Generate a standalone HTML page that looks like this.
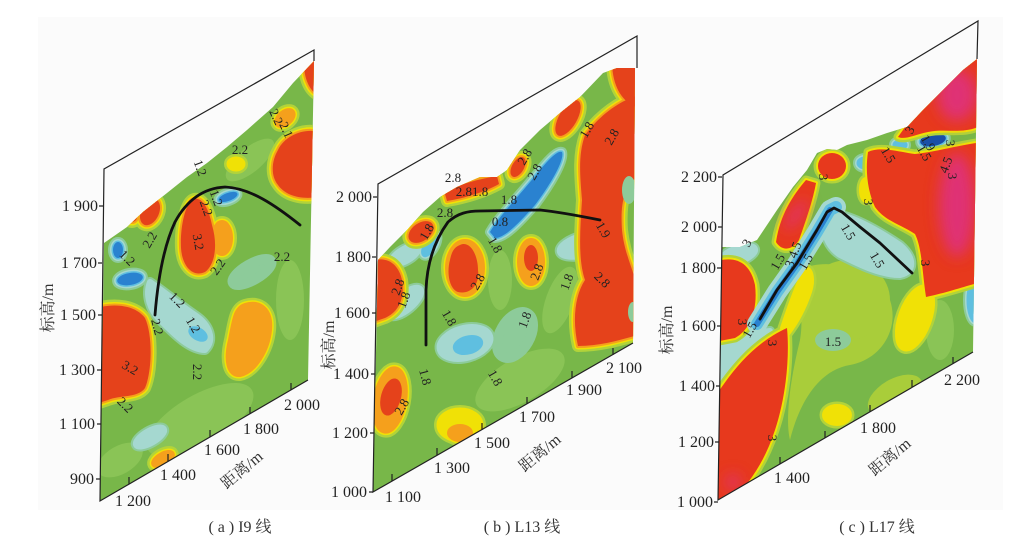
<!DOCTYPE html>
<html><head><meta charset="utf-8">
<style>
html,body{margin:0;padding:0;background:#fff;}
svg{display:block;}
svg text{font-family:"Liberation Serif","Noto Serif CJK SC",serif;}
.tk{font-size:16px;fill:#222;}
.cl{font-size:13px;fill:#222;}
.ti{font-size:16px;fill:#333;}
.L{fill:#b2d33a;stroke:#b2d33a;stroke-width:12px;stroke-linejoin:round;}
.Y{fill:#f0e106;stroke:#f0e106;stroke-width:7px;stroke-linejoin:round;}
.O{fill:#f5a01c;stroke:#f5a01c;stroke-width:4px;stroke-linejoin:round;}
.R{fill:#e5421b;stroke:none;}
.Lc{fill:#b2d33a;stroke:#b2d33a;stroke-width:9px;stroke-linejoin:round;}
.Yc{fill:#f0e106;stroke:#f0e106;stroke-width:4px;stroke-linejoin:round;}
.C4{fill:#8dcb9a;stroke:#8dcb9a;stroke-width:10px;stroke-linejoin:round;}
.C3{fill:#a5d8d0;stroke:#a5d8d0;stroke-width:6px;stroke-linejoin:round;}
.C2{fill:#5fbfe0;stroke:#5fbfe0;stroke-width:3px;stroke-linejoin:round;}
.C1{fill:#2a82d0;stroke:none;}
.ax{stroke:#222;stroke-width:1.2;fill:none;}
.bk{stroke:#111;stroke-width:2.8;fill:none;stroke-linecap:round;stroke-linejoin:round;}
.lg{fill:#8ac456;}
</style></head>
<body>
<svg width="1020" height="545" viewBox="0 0 1020 545" xmlns="http://www.w3.org/2000/svg">
<defs>
<clipPath id="pa"><path d="M104,243 L127,227 L143,212 L167,193 L187,177 L207,163 L227,147 L247,130 L273,107 L293,83 L314,61 L308,380 L100,501 Z"/></clipPath>
<clipPath id="pb"><path d="M378,260 L390,247 L407,230 L423,212 L440,197 L457,187 L480,177 L497,177 L507,170 L520,150 L540,130 L560,113 L580,97 L603,73 L617,68 L635,68 L633,343 L373,492 Z"/></clipPath>
<clipPath id="pc"><path d="M722,247 L740,247 L757,240 L777,210 L793,187 L807,170 L817,153 L827,149 L837,150 L847,145 L867,140 L887,133 L907,127 L923,110 L943,90 L963,70 L977,59 L973,352 L718,500 Z"/></clipPath>
<filter id="bl" x="-50%" y="-50%" width="200%" height="200%"><feGaussianBlur stdDeviation="7"/></filter>

<path id="ar1" d="M96,308 C115,303 135,305 145,318 C153,335 152,372 145,388 C138,398 120,395 108,400 L96,404 Z"/>
<path id="ar2" d="M192,200 C200,195 208,205 212,225 C218,245 215,265 205,272 C192,278 182,265 181,248 C180,228 185,205 192,200 Z"/>
<path id="ar3" d="M278,150 C285,135 305,128 318,132 L318,197 C300,200 285,195 278,185 C270,175 272,160 278,150 Z"/>
<path id="ar4" d="M304,58 L318,58 L318,95 C308,90 303,75 304,58 Z"/>
<ellipse id="ar5" cx="150" cy="212" rx="9" ry="14" transform="rotate(25 150 212)"/>
<ellipse id="ar6" cx="132" cy="217" rx="5" ry="5"/>
<path id="ao1" d="M245,305 C260,300 272,310 270,330 C268,350 255,372 240,375 C228,376 225,360 230,340 C234,320 235,308 245,305 Z"/>
<ellipse id="ao2" cx="163" cy="459" rx="11" ry="5" transform="rotate(-30 163 459)"/>
<ellipse id="ao3" cx="222" cy="238" rx="9" ry="16"/>
<ellipse id="ao4" cx="285" cy="118" rx="10" ry="6" transform="rotate(-40 285 118)"/>
<ellipse id="ay1" cx="236" cy="164" rx="6" ry="4"/>
<ellipse id="ac1" cx="118" cy="250" rx="5" ry="8"/>
<ellipse id="ac2" cx="130" cy="279" rx="13" ry="6" transform="rotate(-10 130 279)"/>
<path id="ac3" d="M150,282 C165,292 180,305 195,315 C210,325 215,340 205,350 C190,350 175,335 160,320 C150,310 145,295 150,282 Z"/>
<ellipse id="ac4" cx="198" cy="334" rx="9" ry="5" transform="rotate(30 198 334)"/>
<ellipse id="ac5" cx="228" cy="197" rx="10" ry="4" transform="rotate(-20 228 197)"/>
<ellipse id="ac6" cx="150" cy="437" rx="16" ry="6" transform="rotate(-30 150 437)"/>
<ellipse id="ac7" cx="252" cy="272" rx="22" ry="8" transform="rotate(-30 252 272)"/>

<path id="br1" d="M368,262 C385,255 398,262 402,280 C405,300 398,312 385,318 L368,324 Z"/>
<ellipse id="br2" cx="421" cy="232" rx="14" ry="9" transform="rotate(-35 421 232)"/>
<path id="br3" d="M445,194 C455,185 475,180 497,176 L499,184 C485,192 465,198 447,201 Z"/>
<ellipse id="br4" cx="518" cy="167" rx="6" ry="11" transform="rotate(30 518 167)"/>
<ellipse id="br5" cx="568" cy="118" rx="9" ry="20" transform="rotate(30 568 118)"/>
<path id="br6" d="M585,135 C600,115 620,100 640,95 L640,175 C625,185 620,200 622,230 C625,260 638,275 638,300 L638,335 C620,340 600,346 578,346 C572,320 575,295 585,280 C578,260 580,230 582,200 C580,175 578,155 585,135 Z"/>
<path id="br7" d="M612,64 L640,64 L640,108 C625,105 613,90 612,64 Z"/>
<path id="br8" d="M460,245 C470,240 478,255 478,270 C480,285 470,295 458,292 C448,288 447,270 450,260 C452,250 455,247 460,245 Z"/>
<ellipse id="br9" cx="531" cy="258" rx="7" ry="13"/>
<ellipse id="br10" cx="391" cy="397" rx="10" ry="19" transform="rotate(15 391 397)"/>
<ellipse id="bo1" cx="390" cy="400" rx="15" ry="32" transform="rotate(10 390 400)"/>
<ellipse id="bo2" cx="460" cy="433" rx="11" ry="7"/>
<ellipse id="bo3" cx="531" cy="262" rx="12" ry="22"/>
<ellipse id="bo4" cx="465" cy="268" rx="18" ry="27"/>
<ellipse id="by1" cx="460" cy="425" rx="20" ry="14"/>
<ellipse id="bc1" cx="465" cy="343" rx="26" ry="15" transform="rotate(-15 465 343)"/>
<ellipse id="bc1b" cx="468" cy="345" rx="14" ry="8" transform="rotate(-15 468 345)"/>
<path id="bc2" d="M490,232 C500,215 520,195 540,170 C550,158 558,150 562,152 C565,160 550,185 535,205 C520,222 505,238 495,238 Z"/>
<ellipse id="bc3" cx="430" cy="245" rx="5" ry="12" transform="rotate(30 430 245)"/>
<ellipse id="bc4" cx="585" cy="245" rx="26" ry="10" transform="rotate(-15 585 245)"/>
<ellipse id="bc5" cx="405" cy="255" rx="15" ry="6" transform="rotate(-30 405 255)"/>
<ellipse id="bc6" cx="405" cy="302" rx="20" ry="8" transform="rotate(-40 405 302)"/>
<ellipse id="bc7" cx="515" cy="335" rx="15" ry="25" transform="rotate(30 515 335)"/>

<path id="cr1" d="M898,137 L920,106 L982,50 L982,125 C965,135 945,128 928,132 C914,135 905,140 898,137 Z"/>
<path id="cr2" d="M868,152 C880,146 900,152 915,154 C935,152 950,147 982,142 L982,282 C965,286 950,292 926,297 C922,270 922,248 915,234 C900,224 885,221 875,207 C868,192 865,172 868,152 Z"/>
<ellipse id="cr3" cx="832" cy="166" rx="14" ry="13"/>
<path id="cr4" d="M776,242 C780,215 793,195 806,180 L816,183 C813,200 806,220 799,240 C793,250 782,252 776,242 Z"/>
<path id="cr5" d="M714,262 C735,255 750,262 755,285 C758,310 750,330 735,338 L714,342 Z"/>
<path id="cr6" d="M714,398 C730,375 750,345 787,328 C790,360 785,400 775,430 C765,460 750,485 730,500 L714,505 Z"/>
<path id="cy1" d="M805,268 C812,268 814,280 810,292 C804,310 795,325 788,334 L782,328 C788,310 797,285 805,268 Z"/>
<ellipse id="cy2" cx="915" cy="318" rx="15" ry="33" transform="rotate(20 915 318)"/>
<ellipse id="cy3" cx="837" cy="415" rx="13" ry="9"/>
<ellipse id="cy4" cx="866" cy="190" rx="5" ry="11"/>
<path id="cc2" d="M828,213 C845,213 870,225 900,245 C915,258 915,272 900,275 C880,275 860,265 840,255 C825,245 820,225 828,213 Z"/>
<ellipse id="cc3" cx="933" cy="140" rx="13" ry="6" transform="rotate(-10 933 140)"/>
<ellipse id="cc4" cx="865" cy="163" rx="7" ry="5"/>
<ellipse id="cc5" cx="900" cy="145" rx="6" ry="4"/>
<ellipse id="cc6" cx="976" cy="300" rx="8" ry="22"/>
<ellipse id="cc7" cx="738" cy="255" rx="18" ry="7" transform="rotate(-20 738 255)"/>
<path id="cc8" d="M714,345 C735,340 755,332 770,331 C760,350 740,370 714,393 Z"/>
</defs>

<rect x="38" y="17" width="965" height="493" fill="#fbfbfb"/>

<!-- ============ PANEL A ============ -->
<g clip-path="url(#pa)">
<rect x="90" y="50" width="240" height="460" fill="#78b749"/>
<ellipse class="lg" cx="200" cy="420" rx="60" ry="25" transform="rotate(-30 200 420)"/>
<ellipse class="lg" cx="120" cy="460" rx="25" ry="14" transform="rotate(-30 120 460)"/>
<ellipse class="lg" cx="250" cy="160" rx="30" ry="12" transform="rotate(-40 250 160)"/>
<ellipse class="lg" cx="290" cy="300" rx="14" ry="40"/>
<g class="C4"><use href="#ac1"/><use href="#ac2"/><use href="#ac3"/><use href="#ac4"/><use href="#ac5"/><use href="#ac6"/><use href="#ac7"/></g>
<g class="C3"><use href="#ac1"/><use href="#ac2"/><use href="#ac3"/><use href="#ac4"/><use href="#ac5"/><use href="#ac6"/></g>
<g class="C2"><use href="#ac1"/><use href="#ac2"/><use href="#ac4"/><use href="#ac5"/></g>
<g class="C1"><use href="#ac1"/><use href="#ac2"/><use href="#ac5"/></g>
<g class="L"><use href="#ar1"/><use href="#ar2"/><use href="#ar3"/><use href="#ar4"/><use href="#ar5"/><use href="#ar6"/><use href="#ao1"/><use href="#ao2"/><use href="#ao3"/><use href="#ao4"/><use href="#ay1"/></g>
<g class="Y"><use href="#ar1"/><use href="#ar2"/><use href="#ar3"/><use href="#ar4"/><use href="#ar5"/><use href="#ar6"/><use href="#ao1"/><use href="#ao2"/><use href="#ao3"/><use href="#ao4"/><use href="#ay1"/></g>
<g class="O"><use href="#ar1"/><use href="#ar2"/><use href="#ar3"/><use href="#ar4"/><use href="#ar5"/><use href="#ar6"/><use href="#ao1"/><use href="#ao2"/><use href="#ao3"/><use href="#ao4"/></g>
<g class="R"><use href="#ar1"/><use href="#ar2"/><use href="#ar3"/><use href="#ar4"/><use href="#ar5"/><use href="#ar6"/></g>
</g>
<path class="bk" d="M155,315 C157,290 162,250 175,222 C188,198 205,188 225,187 C250,188 275,205 300,225"/>
<g class="ax">
<path d="M314,61 L314,50 L104,169 L100,501 L308,380"/>
<path d="M129,484 v-7 M168,461 v-7 M210,437 v-7 M250,414 v-7 M291,390 v-7"/>
<path d="M99,206 h4 M98,263 h4 M98,315 h4 M97,370 h4 M97,424 h4 M96,479 h4"/>
</g>
<g class="tk" text-anchor="end">
<text x="98" y="211">1 900</text><text x="97" y="268">1 700</text><text x="96" y="320">1 500</text>
<text x="95" y="375">1 300</text><text x="95" y="429">1 100</text><text x="94" y="484">900</text>
</g>
<g class="tk" text-anchor="middle">
<text x="133" y="506">1 200</text><text x="178" y="480">1 400</text><text x="222" y="455">1 600</text>
<text x="261" y="434">1 800</text><text x="302" y="410">2 000</text>
</g>
<text class="ti" text-anchor="middle" transform="translate(48,308) rotate(-90)" dy="5">标高/m</text>
<text class="ti" text-anchor="middle" transform="translate(242,470) rotate(-40)" dy="5">距离/m</text>
<g class="cl" text-anchor="middle">
<text transform="translate(240,150)" dy="4">2.2</text>
<text transform="translate(276,117) rotate(65)" dy="4">2.2</text>
<text transform="translate(286,130) rotate(65)" dy="4">2.1</text>
<text transform="translate(200,168) rotate(70)" dy="4">1.2</text>
<text transform="translate(216,198) rotate(70)" dy="4">1.2</text>
<text transform="translate(206,208) rotate(70)" dy="4">2.2</text>
<text transform="translate(198,242) rotate(80)" dy="4">3.2</text>
<text transform="translate(150,240) rotate(-60)" dy="4">2.2</text>
<text transform="translate(127,258) rotate(45)" dy="4">1.2</text>
<text transform="translate(218,267) rotate(-55)" dy="4">2.2</text>
<text transform="translate(282,257)" dy="4">2.2</text>
<text transform="translate(177,300) rotate(45)" dy="4">1.2</text>
<text transform="translate(193,325) rotate(60)" dy="4">1.2</text>
<text transform="translate(157,327) rotate(75)" dy="4">2.2</text>
<text transform="translate(130,368) rotate(30)" dy="4">3.2</text>
<text transform="translate(197,372) rotate(90)" dy="4">2.2</text>
<text transform="translate(125,405) rotate(45)" dy="4">2.2</text>
</g>
<text class="ti" x="240" y="532" text-anchor="middle">( a ) I9 线</text>

<!-- ============ PANEL B ============ -->
<g clip-path="url(#pb)">
<rect x="365" y="55" width="280" height="450" fill="#78b749"/>
<ellipse class="lg" cx="520" cy="380" rx="50" ry="22" transform="rotate(-30 520 380)"/>
<ellipse class="lg" cx="560" cy="300" rx="14" ry="35" transform="rotate(20 560 300)"/>
<ellipse class="lg" cx="500" cy="280" rx="12" ry="30"/>
<ellipse class="lg" cx="600" cy="180" rx="10" ry="30" transform="rotate(25 600 180)"/>
<g class="C4"><use href="#bc1"/><use href="#bc2"/><use href="#bc3"/><use href="#bc4"/><use href="#bc5"/><use href="#bc6"/><use href="#bc7"/></g>
<g class="C3"><use href="#bc1"/><use href="#bc2"/><use href="#bc3"/><use href="#bc4"/><use href="#bc5"/><use href="#bc6"/></g>
<g class="C2"><use href="#bc1b"/><use href="#bc2"/><use href="#bc3"/></g>
<g class="C1"><use href="#bc2"/></g>
<g class="L"><use href="#br1"/><use href="#br2"/><use href="#br3"/><use href="#br4"/><use href="#br5"/><use href="#br6"/><use href="#br7"/><use href="#br8"/><use href="#br9"/><use href="#br10"/><use href="#bo1"/><use href="#bo2"/><use href="#bo3"/><use href="#bo4"/><use href="#by1"/></g>
<g class="Y"><use href="#br1"/><use href="#br2"/><use href="#br3"/><use href="#br4"/><use href="#br5"/><use href="#br6"/><use href="#br7"/><use href="#br8"/><use href="#br9"/><use href="#br10"/><use href="#bo1"/><use href="#bo2"/><use href="#bo3"/><use href="#bo4"/><use href="#by1"/></g>
<g class="O"><use href="#br1"/><use href="#br2"/><use href="#br3"/><use href="#br4"/><use href="#br5"/><use href="#br6"/><use href="#br7"/><use href="#br8"/><use href="#br9"/><use href="#br10"/><use href="#bo1"/><use href="#bo2"/><use href="#bo3"/><use href="#bo4"/></g>
<g class="R"><use href="#br1"/><use href="#br2"/><use href="#br3"/><use href="#br4"/><use href="#br5"/><use href="#br6"/><use href="#br7"/><use href="#br8"/><use href="#br9"/><use href="#br10"/></g>
<ellipse cx="629" cy="190" rx="7" ry="14" fill="#8dcb9a"/>
<ellipse cx="633" cy="312" rx="5" ry="10" fill="#8dcb9a"/>
</g>
<path class="bk" d="M426,345 L426,290 C427,262 435,240 448,222 C458,213 468,211 480,211 L540,210 C560,212 580,216 600,220"/>
<g class="ax">
<path d="M637,68 L637,36 L378,184 L373,492 L633,343"/>
<path d="M392,481 v-7 M437,455 v-7 M482,430 v-7 M527,404 v-7 M572,378 v-7 M613,355 v-7"/>
<path d="M373,197 h4 M372,257 h4 M372,313 h4 M371,374 h4 M370,433 h4 M369,492 h4"/>
</g>
<g class="tk" text-anchor="end">
<text x="372" y="202">2 000</text><text x="371" y="262">1 800</text><text x="370" y="318">1 600</text>
<text x="369" y="379">1 400</text><text x="368" y="438">1 200</text><text x="367" y="497">1 000</text>
</g>
<g class="tk" text-anchor="middle">
<text x="403" y="502">1 100</text><text x="452" y="473">1 300</text><text x="492" y="448">1 500</text>
<text x="537" y="422">1 700</text><text x="584" y="395">1 900</text><text x="624" y="373">2 100</text>
</g>
<text class="ti" text-anchor="middle" transform="translate(329,345) rotate(-90)" dy="5">标高/m</text>
<text class="ti" text-anchor="middle" transform="translate(540,453) rotate(-40)" dy="5">距离/m</text>
<g class="cl" text-anchor="middle">
<text transform="translate(453,178)" dy="4">2.8</text>
<text transform="translate(472,192)" dy="4">2.81.8</text>
<text transform="translate(509,200)" dy="4">1.8</text>
<text transform="translate(445,213)" dy="4">2.8</text>
<text transform="translate(500,222)" dy="4">0.8</text>
<text transform="translate(427,232) rotate(-60)" dy="4">1.8</text>
<text transform="translate(525,157) rotate(-60)" dy="4">2.8</text>
<text transform="translate(535,172) rotate(-60)" dy="4">2.8</text>
<text transform="translate(587,130) rotate(-60)" dy="4">1.8</text>
<text transform="translate(612,137) rotate(-60)" dy="4">2.8</text>
<text transform="translate(603,230) rotate(60)" dy="4">1.9</text>
<text transform="translate(495,245) rotate(60)" dy="4">1.8</text>
<text transform="translate(478,282) rotate(-60)" dy="4">2.8</text>
<text transform="translate(537,272) rotate(-70)" dy="4">2.8</text>
<text transform="translate(567,282) rotate(-70)" dy="4">1.8</text>
<text transform="translate(602,280) rotate(45)" dy="4">2.8</text>
<text transform="translate(398,287) rotate(-70)" dy="4">2.8</text>
<text transform="translate(404,300) rotate(-70)" dy="4">1.8</text>
<text transform="translate(449,318) rotate(60)" dy="4">1.8</text>
<text transform="translate(525,320) rotate(-70)" dy="4">1.8</text>
<text transform="translate(425,377) rotate(75)" dy="4">1.8</text>
<text transform="translate(495,378) rotate(60)" dy="4">1.8</text>
<text transform="translate(402,407) rotate(-60)" dy="4">2.8</text>
</g>
<text class="ti" x="522" y="532" text-anchor="middle">( b ) L13 线</text>

<!-- ============ PANEL C ============ -->
<g clip-path="url(#pc)">
<rect x="710" y="40" width="280" height="470" fill="#78b749"/>
<path d="M800,270 C830,255 870,270 890,300 C900,330 880,360 850,365 C820,370 800,400 790,440 C785,420 790,380 800,340 C805,310 795,290 800,270 Z" fill="#a9cd3a"/>
<ellipse cx="848" cy="300" rx="42" ry="40" fill="#a9cd3a"/>
<ellipse cx="895" cy="395" rx="30" ry="16" fill="#a9cd3a" transform="rotate(-30 895 395)"/>
<ellipse cx="833" cy="340" rx="18" ry="11" fill="#8dcb9a"/>
<ellipse class="lg" cx="940" cy="330" rx="14" ry="30"/>
<g class="C4"><use href="#cc2"/><use href="#cc3"/><use href="#cc4"/><use href="#cc5"/><use href="#cc6"/><use href="#cc7"/><use href="#cc8"/></g>
<g class="C3"><use href="#cc2"/><use href="#cc3"/><use href="#cc4"/><use href="#cc5"/><use href="#cc6"/><use href="#cc7"/><use href="#cc8"/></g>
<g class="C2"><use href="#cc3"/><use href="#cc4"/><use href="#cc5"/><use href="#cc6"/></g>
<g class="C1"><use href="#cc3" style="fill:#1a4fa8"/></g>
<g class="Lc"><use href="#cr1"/><use href="#cr2"/><use href="#cr3"/><use href="#cr4"/><use href="#cr5"/><use href="#cr6"/><use href="#cy1"/><use href="#cy2"/><use href="#cy3"/><use href="#cy4"/></g>
<g class="Yc"><use href="#cr1"/><use href="#cr2"/><use href="#cr3"/><use href="#cr4"/><use href="#cr5"/><use href="#cr6"/><use href="#cy1"/><use href="#cy2"/><use href="#cy3"/><use href="#cy4"/></g>
<g class="R" style="fill:#e7391d"><use href="#cr1"/><use href="#cr2"/><use href="#cr3"/><use href="#cr4"/><use href="#cr5"/><use href="#cr6"/></g>
<g filter="url(#bl)" fill="#df3274">
<ellipse cx="957" cy="205" rx="18" ry="52"/>
<ellipse cx="957" cy="95" rx="20" ry="26"/>
<ellipse cx="796" cy="215" rx="5" ry="18" transform="rotate(35 796 215)"/>
<ellipse cx="733" cy="482" rx="7" ry="7"/>
</g>
<path d="M757,324 L777,292 L797,264 L817,232 L830,210 L836,207" stroke="#a5d8d0" stroke-width="20" fill="none" stroke-linejoin="round" stroke-linecap="round"/>
<path d="M757,324 L777,292 L797,264 L817,232 L830,210 L836,207" stroke="#5fbfe0" stroke-width="12" fill="none" stroke-linejoin="round" stroke-linecap="round"/>
<path d="M757,324 L777,292 L797,264 L817,232 L830,210" stroke="#2a82d0" stroke-width="6" fill="none" stroke-linejoin="round" stroke-linecap="round"/>
</g>
<path class="bk" d="M760,319 L777,290 L797,263 L817,230 L827,212 L834,208 L842,212 L860,227 L880,243 L912,273"/>
<g class="ax">
<path d="M977,59 L978,21 L723,175 L718,500 L973,352"/>
<path d="M780,464 v-7 M825,438 v-7 M870,412 v-7 M912,387 v-7 M953,364 v-7"/>
<path d="M718,177 h4 M718,227 h4 M717,268 h4 M717,326 h4 M716,386 h4 M715,442 h4 M714,502 h4"/>
</g>
<g class="tk" text-anchor="end">
<text x="717" y="182">2 200</text><text x="717" y="232">2 000</text><text x="716" y="273">1 800</text>
<text x="716" y="331">1 600</text><text x="715" y="391">1 400</text><text x="714" y="447">1 200</text><text x="713" y="507">1 000</text>
</g>
<g class="tk" text-anchor="middle">
<text x="792" y="483">1 400</text><text x="878" y="433">1 800</text><text x="962" y="385">2 200</text>
</g>
<text class="ti" text-anchor="middle" transform="translate(667,330) rotate(-90)" dy="5">标高/m</text>
<text class="ti" text-anchor="middle" transform="translate(890,457) rotate(-40)" dy="5">距离/m</text>
<g class="cl" text-anchor="middle">
<text transform="translate(910,130) rotate(-60)" dy="4">3</text>
<text transform="translate(888,155) rotate(60)" dy="4">1.5</text>
<text transform="translate(928,143) rotate(60)" dy="4">1.9</text>
<text transform="translate(924,153) rotate(60)" dy="4">1.5</text>
<text transform="translate(950,143) rotate(90)" dy="4">3</text>
<text transform="translate(946,165) rotate(-70)" dy="4">4.5</text>
<text transform="translate(952,176) rotate(90)" dy="4">3</text>
<text transform="translate(823,177) rotate(90)" dy="4">3</text>
<text transform="translate(868,202) rotate(90)" dy="4">3</text>
<text transform="translate(795,250) rotate(-70)" dy="4">4.5</text>
<text transform="translate(790,264) rotate(-70)" dy="4">3</text>
<text transform="translate(778,262) rotate(-60)" dy="4">1.5</text>
<text transform="translate(806,262) rotate(-60)" dy="4">1.5</text>
<text transform="translate(848,232) rotate(60)" dy="4">1.5</text>
<text transform="translate(877,260) rotate(60)" dy="4">1.5</text>
<text transform="translate(925,263) rotate(90)" dy="4">3</text>
<text transform="translate(747,243) rotate(-60)" dy="4">3</text>
<text transform="translate(742,322) rotate(90)" dy="4">3</text>
<text transform="translate(750,330) rotate(-60)" dy="4">1.5</text>
<text transform="translate(772,343) rotate(90)" dy="4">3</text>
<text transform="translate(833,342)" dy="4">1.5</text>
<text transform="translate(772,438) rotate(90)" dy="4">3</text>
</g>
<text class="ti" x="877" y="532" text-anchor="middle">( c ) L17 线</text>
</svg>
</body></html>
